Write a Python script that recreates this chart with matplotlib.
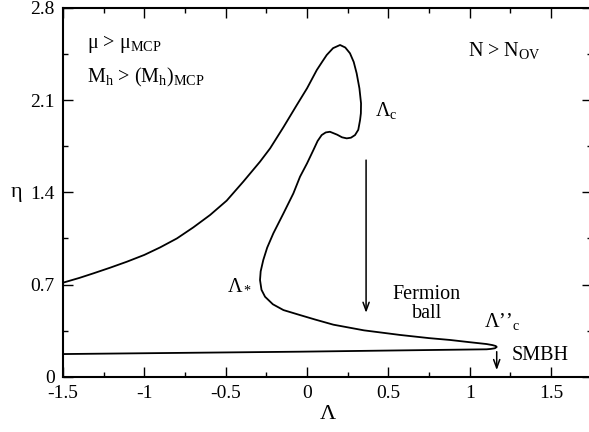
import matplotlib
matplotlib.use("Agg")
import matplotlib.pyplot as plt
from matplotlib.ticker import MultipleLocator

plt.rcParams['font.family'] = ['Liberation Serif', 'DejaVu Serif']
plt.rcParams['mathtext.fontset'] = 'custom'
plt.rcParams['mathtext.rm'] = 'Liberation Serif'
plt.rcParams['mathtext.it'] = 'Liberation Serif:italic'

# curve: upper branch -> loop -> Lambda_* -> tip -> bottom branch
lam = [-1.5, -1.40, -1.313, -1.21, -1.108, -1.0, -0.903, -0.80, -0.699, -0.596,
       -0.494, -0.392, -0.289, -0.227, -0.145, -0.063, 0.0, 0.060, 0.095, 0.121,
       0.16, 0.203, 0.235, 0.264, 0.287, 0.305, 0.322, 0.332, 0.331, 0.326,
       0.315, 0.295, 0.27, 0.244, 0.215, 0.185, 0.141, 0.115, 0.090, 0.065,
       0.039, 0.0, -0.043, -0.084, -0.145, -0.207, -0.245, -0.269, -0.285, -0.289,
       -0.28, -0.258, -0.21, -0.145, -0.043, 0.05, 0.162, 0.35, 0.572, 0.75,
       0.879, 1.0, 1.104, 1.14, 1.16, 1.166, 1.155, 1.13, 1.104, 0.776,
       -0.043, -1.5]
eta = [0.714, 0.75, 0.785, 0.828, 0.873, 0.925, 0.982, 1.05, 1.134, 1.228,
       1.337, 1.481, 1.633, 1.734, 1.895, 2.063, 2.19, 2.329, 2.395, 2.443,
       2.495, 2.519, 2.50, 2.456, 2.39, 2.304, 2.19, 2.076, 2.0, 1.949,
       1.875, 1.835, 1.815, 1.810, 1.818, 1.838, 1.860, 1.855, 1.835, 1.79,
       1.721, 1.62, 1.519, 1.392, 1.24, 1.089, 0.98, 0.886, 0.80, 0.734,
       0.66, 0.607, 0.55, 0.506, 0.468, 0.434, 0.395, 0.352, 0.317, 0.293,
       0.279, 0.262, 0.248, 0.240, 0.233, 0.226, 0.216, 0.211, 0.208, 0.203,
       0.19, 0.172]

big_arrow = [(0.363, 1.645), (0.363, 0.485)]
small_arrow = [(1.166, 0.19), (1.166, 0.05)]

fig = plt.figure(figsize=(5.89, 4.32), dpi=100)
ax = fig.add_axes([0.107, 0.128, 0.8976, 0.8535])

ax.plot(lam, eta, color='k', lw=1.3, solid_joinstyle='round')

for start, end in (big_arrow, small_arrow):
    ax.annotate('', xy=end, xytext=start,
                arrowprops=dict(arrowstyle='->,head_length=0.6,head_width=0.22',
                                lw=1.1, color='k', shrinkA=0, shrinkB=0))

fs = 14.5
ax.text(-1.35, 2.53, 'μ > μ$_\\mathrm{MCP}$', fontsize=fs, va='center')
ax.text(-1.355, 2.27, 'M$_\\mathrm{h}$ > (M$_\\mathrm{h}$)$_\\mathrm{MCP}$', fontsize=fs, va='center')
ax.text(0.99, 2.48, 'N > N$_\\mathrm{OV}$', fontsize=fs, va='center')
ax.text(0.415, 2.02, 'Λ$_\\mathrm{c}$', fontsize=fs, va='center')
ax.text(-0.495, 0.70, 'Λ$_*$', fontsize=fs, va='center')
ax.text(0.735, 0.55, 'Fermion\nball', fontsize=fs, ha='center', va='center', linespacing=1.0)
ax.text(1.09, 0.42, 'Λ’’$_\\mathrm{c}$', fontsize=fs, va='center')
ax.text(1.255, 0.16, 'SMBH', fontsize=fs, va='center')

ax.set_xlim(-1.5, 1.75)
ax.set_ylim(0, 2.8)
ax.xaxis.set_minor_locator(MultipleLocator(0.25))
ax.yaxis.set_minor_locator(MultipleLocator(0.35))
ax.set_xticks([-1.5, -1, -0.5, 0, 0.5, 1, 1.5])
ax.set_xticklabels(['-1.5', '-1', '-0.5', '0', '0.5', '1', '1.5'])
ax.set_yticks([0, 0.7, 1.4, 2.1, 2.8])
ax.set_yticklabels(['0', '0.7', '1.4', '2.1', '2.8'])
ax.tick_params(which='both', direction='in', top=True, right=True, labelsize=14, width=1.0)
ax.tick_params(which='major', length=7)
ax.tick_params(axis='x', which='major', pad=6)
ax.tick_params(axis='y', which='major', pad=6)
ax.tick_params(which='minor', length=3.5)
for s in ax.spines.values():
    s.set_linewidth(1.5)

ax.set_xlabel('Λ', fontsize=16, labelpad=2)
ax.set_ylabel('η', fontsize=16, rotation=0, labelpad=10, va='center')

fig.savefig('out.png', dpi=100)
